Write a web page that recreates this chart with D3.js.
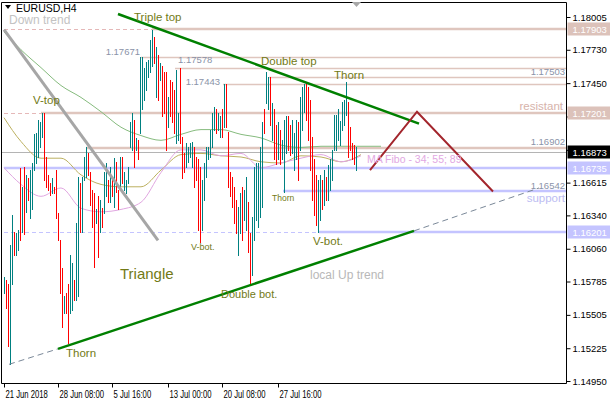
<!DOCTYPE html>
<html><head><meta charset="utf-8">
<script src="https://cdn.jsdelivr.net/npm/d3@7"></script>
<style>
body{margin:0;background:#fff}
svg{display:block}
text{font-family:"Liberation Sans",Arial,sans-serif}
</style>
</head><body>
<svg id="c" width="610" height="400"></svg>
<script>
// ---------------- DATA ----------------
const symbol = "EURUSD,H4";
const yTicks = [1.18005,1.17730,1.17450,1.17170,1.16890,1.16615,1.16340,1.16060,1.15785,1.15505,1.15225,1.14950];
const xTickIdx = [0,27,54,82,109,137];
const xTickLabels = ["21 Jun 2018","28 Jun 08:00","5 Jul 16:00","13 Jul 00:00","20 Jul 08:00","27 Jul 16:00"];

const highs = [
1.1582,1.1580,1.1576,1.1609,1.1634,1.1620,1.1619,1.1622,1.1674,1.1658,
1.1675,1.1668,1.1665,1.1672,1.1678,1.1702,1.1703,1.1714,1.1712,1.1720,
1.1720,1.1683,1.1668,1.1661,1.1665,1.1658,1.1672,1.1636,1.1613,1.1590,
1.1566,1.1569,1.1576,1.1601,1.1594,1.1580,1.1628,1.1666,1.1661,1.1666,
1.1683,1.1691,1.1686,1.1670,1.1655,1.1653,1.1639,1.1650,1.1647,1.1640,
1.1670,1.1678,1.1664,1.1675,1.1666,1.1682,1.1679,1.1655,1.1683,1.1683,
1.1670,1.1664,1.1675,1.1712,1.1720,1.1714,1.1699,1.1697,1.1767,1.1767,
1.1758,1.1763,1.1764,1.1781,1.1790,1.1784,1.1775,1.1769,1.1762,1.1759,
1.1754,1.1754,1.1733,1.1748,1.1746,1.1739,1.1756,1.1720,1.1758,1.1700,
1.1686,1.1695,1.1691,1.1695,1.1696,1.1691,1.1683,1.1681,1.1675,1.1664,
1.1678,1.1691,1.1691,1.1706,1.1720,1.1725,1.1723,1.1720,1.1717,1.1723,
1.1744,1.1744,1.1704,1.1670,1.1666,1.1658,1.1647,1.1641,1.1653,1.1658,
1.1655,1.1666,1.1645,1.1619,1.1633,1.1675,1.1678,1.1678,1.1691,1.1712,
1.1723,1.1754,1.1750,1.1750,1.1728,1.1723,1.1710,1.1712,1.1706,1.1697,
1.1714,1.1717,1.1717,1.1710,1.1714,1.1703,1.1714,1.1712,1.1733,1.1742,
1.1744,1.1744,1.1742,1.1731,1.1700,1.1681,1.1668,1.1664,1.1668,1.1664,
1.1672,1.1666,1.1676,1.1681,1.1689,1.1718,1.1718,1.1723,1.1713,1.1729,
1.1731,1.1746,1.1729,1.1708,1.1695,1.1693,1.1691];

const lows = [
1.1569,1.1556,1.1524,1.1509,1.1576,1.1601,1.1601,1.1605,1.1613,1.1620,
1.1618,1.1637,1.1647,1.1632,1.1639,1.1672,1.1678,1.1683,1.1691,1.1700,
1.1664,1.1658,1.1655,1.1651,1.1653,1.1653,1.1632,1.1613,1.1569,1.1540,
1.1552,1.1552,1.1527,1.1552,1.1555,1.1563,1.1563,1.1566,1.1620,1.1620,
1.1664,1.1666,1.1668,1.1643,1.1624,1.1591,1.1628,1.1599,1.1620,1.1624,
1.1636,1.1650,1.1645,1.1645,1.1650,1.1641,1.1654,1.1639,1.1655,1.1661,
1.1655,1.1653,1.1661,1.1691,1.1689,1.1675,1.1689,1.1681,1.1703,1.1723,
1.1731,1.1739,1.1750,1.1754,1.1759,1.1762,1.1733,1.1731,1.1748,1.1717,
1.1720,1.1689,1.1708,1.1717,1.1712,1.1703,1.1695,1.1697,1.1695,1.1665,
1.1670,1.1675,1.1679,1.1683,1.1675,1.1658,1.1664,1.1622,1.1612,1.1622,
1.1647,1.1666,1.1681,1.1683,1.1691,1.1706,1.1703,1.1706,1.1700,1.1700,
1.1708,1.1708,1.1658,1.1650,1.1641,1.1628,1.1619,1.1601,1.1619,1.1613,
1.1630,1.1622,1.1603,1.1576,1.1584,1.1613,1.1630,1.1624,1.1633,1.1641,
1.1703,1.1728,1.1723,1.1710,1.1697,1.1681,1.1677,1.1681,1.1677,1.1681,
1.1654,1.1686,1.1689,1.1685,1.1686,1.1672,1.1681,1.1664,1.1689,1.1706,
1.1721,1.1714,1.1697,1.1672,1.1647,1.1634,1.1626,1.1620,1.1630,1.1639,
1.1643,1.1647,1.1647,1.1655,1.1664,1.1689,1.1689,1.1697,1.1693,1.1706,
1.1710,1.1718,1.1683,1.1689,1.1681,1.1677,1.1672];

// 1 = bullish bar, 0 = bearish bar
const ups = [
1,0,0,1,1,0,1,1,0,1, 0,1,0,1,1,1,1,1,1,1, 0,0,0,0,1,0,0,0,0,0,
1,0,0,1,1,0,1,1,0,1, 1,1,0,0,0,0,1,0,1,0, 1,1,0,1,0,1,0,0,1,0,
1,1,1,1,1,0,1,0,1,1, 1,1,1,1,1,0,1,0,1,0, 0,0,1,0,0,0,1,1,0,0,
0,1,1,1,1,0,0,0,0,1, 1,1,1,1,1,1,0,1,1,0, 1,0,0,0,0,0,0,1,1,0,
1,1,0,0,1,1,1,1,1,1, 0,1,1,0,1,0,0,1,0,1, 1,1,0,0,1,1,1,0,1,1,
1,0,0,0,0,0,0,1,1,0, 1,0,1,1,1,1,1,1,1,1, 1,1,0,0,0,0,1];

// moving averages (MA Fibo 34/55/89) read at sampled bar positions
const maIdx    = [0,8.5,18.5,28.5,38.5,48.5,58.5,68.5,78.5,88.5,98.5,108.5,118.5,128.5,138.5,148.5,158.5,168.5,178.5,188.5];
const maSlow   = [1.1788,1.1773,1.1758,1.1743,1.1733,1.1721,1.1708,1.1701,1.1697,1.1702,1.1706,1.1706,1.1702,1.1699,1.1693,1.1691,1.1692,1.1692,1.1692,1.1692];
const maMid    = [1.1716,1.1696,1.1682,1.1682,1.1668,1.1660,1.1658,1.1658,1.1672,1.1685,1.1686,1.1684,1.1683,1.1679,1.1678,1.1684,1.1683,1.1679,1.1685];
const maFast   = [1.1674,1.1660,1.1650,1.1657,1.1640,1.1637,1.1639,1.1645,1.1670,1.1689,1.1689,1.1684,1.1686,1.1674,1.1678,1.1682,1.1685,1.1679,1.1684];

// horizontal levels: price, first bar index, kind (r = resistance, s = support)
const levelPrices = [1.17903,1.17671,1.17578,1.17503,1.17443,1.17201,1.16902,1.16735,1.16542,1.16201];
const levelFrom   = [74,68.5,85.5,132.5,109.5,18.5,41,0,139.5,157.5];
const levelKind   = ["r","r","r","r","r","r","r","s","s","s"];
const levelMajor  = [1,0,0,0,0,1,1,1,1,1];
const levelLead   = [1,0,0,0,0,1,0,0,0,1];   // dashed lead-in from chart start
const levelBox    = [1,0,0,0,0,1,0,1,0,1];   // price box on axis
const bidPrice = 1.16873;

// drawn objects: [bar index, price]
const triUpper = [[57,1.1803],[207.5,1.1711]];
const triLower = [[27,1.1522],[205,1.1621]];
const extLeft  = [[2.5,1.1509],[27,1.1522]];
const extRight = [[205,1.1621],[267.5,1.1657]];
const downTrend = [[0,1.1790],[77,1.1613]];
const forecast = [[183,1.1672],[206.5,1.1721],[244.5,1.1654]];

// ---------------- LAYOUT ----------------
const L=1.5, T=2.5, R=566.5, B=383.5;
const svg = d3.select("#c");
const x = d3.scaleLinear().domain([0, highs.length-1]).range([4, 356]);
const y = d3.scaleLinear().domain([1.14950, 1.18005]).range([381, 17]);
const px = v => Math.round(x(v)) + 0.5;

const SALMON="#dfc6be", LAV="#c4c4ff", PINKDASH="#e5b8b8";

svg.append("defs").append("clipPath").attr("id","clip")
  .append("rect").attr("x",L).attr("y",T).attr("width",R-L).attr("height",B-T);
const plot = svg.append("g").attr("clip-path","url(#clip)");

// horizontal levels
levelPrices.forEach((p,i)=>{
  const col = levelKind[i]==="r" ? SALMON : LAV;
  const yy = Math.round(y(p)) + (levelMajor[i]?0:0.5);
  if(levelLead[i]){
    plot.append("line").attr("x1",x(0)).attr("x2",x(levelFrom[i])).attr("y1",Math.round(y(p))+0.5).attr("y2",Math.round(y(p))+0.5)
      .attr("stroke", levelKind[i]==="r"?PINKDASH:LAV).attr("stroke-width",1).attr("stroke-dasharray","4,3");
  }
  plot.append("line").attr("x1",x(levelFrom[i])).attr("x2",R).attr("y1",yy).attr("y2",yy)
    .attr("stroke",col).attr("stroke-width",levelMajor[i]?2.5:1.5);
});
// bid line
plot.append("line").attr("x1",L).attr("x2",R).attr("y1",Math.round(y(bidPrice))+0.5).attr("y2",Math.round(y(bidPrice))+0.5)
  .attr("stroke","#b4b4b4").attr("stroke-width",1);

// moving averages
const maLine = d3.line().x(d=>x(d[0])).y(d=>y(d[1])).curve(d3.curveMonotoneX);
[[maSlow,"#86bb7e"],[maMid,"#bcb060"],[maFast,"#e0a6e0"]].forEach(([arr,c])=>{
  plot.append("path").attr("d",maLine(arr.map((v,i)=>[maIdx[i],v])))
    .attr("fill","none").attr("stroke",c).attr("stroke-width",1);
});

// bars (high-low)
const barG = plot.append("g");
highs.forEach((h,i)=>{
  barG.append("rect")
    .attr("x", Math.round(x(i)))
    .attr("y", Math.round(y(h)))
    .attr("width", 1)
    .attr("height", Math.max(1, Math.round(y(lows[i])) - Math.round(y(h)) + 1))
    .attr("fill", ups[i] === 1 ? "#008080" : "#ff0000");
});

// trend objects
const seg = d3.line().x(d=>x(d[0])).y(d=>y(d[1]));
const drawSeg = (pts,c,w,dash)=>plot.append("path").attr("d",seg(pts)).attr("stroke",c).attr("stroke-width",w)
  .attr("stroke-dasharray",dash||null).attr("fill","none");
drawSeg(downTrend,"#a6a6a6",3);
drawSeg(extLeft,"#7a8898",1,"6,4");
drawSeg(extRight,"#7a8898",1,"6,4");
drawSeg(triUpper,"#008000",2.5);
drawSeg(triLower,"#008000",2.5);
drawSeg(forecast,"#a3262d",2);

// annotation texts
const OLIVE="#727a16", NUM="#8a93a8";
const notes = [
  ["Down trend",9,24,12,"#c3c3c3","start"],
  ["Triple top",134,21,11.5,OLIVE,"start"],
  ["Double top",261,65,11.5,OLIVE,"start"],
  ["Thorn",334,79,11.5,OLIVE,"start"],
  ["V-top",33,104,11.5,OLIVE,"start"],
  ["Thorn",272,201,8.5,OLIVE,"start"],
  ["V-bot.",191,250,9,OLIVE,"start"],
  ["V-bot.",313,245,11.5,OLIVE,"start"],
  ["Triangle",120,279,15,OLIVE,"start"],
  ["local Up trend",310,279,12,"#b8b8b8","start"],
  ["Double bot.",221,298,11,OLIVE,"start"],
  ["Thorn",66,357,11.5,OLIVE,"start"],
  ["MA Fibo - 34; 55; 89",367,163,10.5,"#e2a8e2","start"],
  ["resistant",563,110,11.5,"#d6b2aa","end"],
  ["support",565,202,11.5,"#bcbcf2","end"],
  ["1.17671",140,55,9.5,NUM,"end"],
  ["1.17578",178,63,9.5,NUM,"start"],
  ["1.17443",220,85,9.5,NUM,"end"],
  ["1.17503",565,75,9.5,NUM,"end"],
  ["1.16902",565,145,9.5,NUM,"end"],
  ["1.16542",565,189,9.5,NUM,"end"]
];
const ng = svg.append("g");
notes.forEach(([t,xx,yy,fs,c,a])=>{
  ng.append("text").text(t).attr("x",xx).attr("y",yy).attr("font-size",fs).attr("fill",c).attr("text-anchor",a);
});

// frame
svg.append("path").attr("d",`M${L},${T}H${R}V${B}H${L}Z`).attr("fill","none").attr("stroke","#000").attr("stroke-width",1);

// header
svg.append("path").attr("d","M5,5L11,5L8,9Z").attr("fill","#000");
svg.append("text").text(symbol).attr("x",16).attr("y",12).attr("font-size",10.5).attr("fill","#000");
svg.append("path").attr("d","M352,2L361,2L356.5,7Z").attr("fill","#a8a8a8");

// axis price boxes
const boxes = levelPrices.map((p,i)=>({p, bg: levelKind[i]==="r"?"#dcc2ba":"#c4c4ff"})).filter((d,i)=>levelBox[i]);
boxes.push({p:bidPrice,bg:"#000"});

// right axis
const ya = d3.axisRight(y).tickValues(yTicks).tickSize(4).tickPadding(2).tickFormat(d3.format(".5f"));
const yg = svg.append("g").attr("transform",`translate(${R},0)`).call(ya);
yg.select(".domain").remove();
yg.selectAll("text").attr("font-size",9.5).attr("font-family","Liberation Sans, Arial, sans-serif").attr("fill","#000")
  .style("display", d => boxes.some(b=>Math.abs(y(b.p)-y(d))<8) ? "none" : null);
yg.selectAll("line").attr("stroke","#000");

const bgG = svg.append("g");
boxes.forEach(b=>{
  const yy = Math.round(y(b.p));
  bgG.append("rect").attr("x",R+1).attr("y",yy-6.5).attr("width",610-R).attr("height",13).attr("fill",b.bg);
  bgG.append("text").text(d3.format(".5f")(b.p)).attr("x",R+6).attr("y",yy+3.5).attr("font-size",9.5).attr("fill","#fff");
});

// bottom axis
const xa = d3.axisBottom(x).tickValues(xTickIdx).tickSize(4).tickPadding(3).tickFormat((d,i)=>xTickLabels[i]);
const xg = svg.append("g").attr("transform",`translate(0,${B})`).call(xa);
xg.select(".domain").remove();
xg.selectAll(".tick").attr("transform",d=>`translate(${px(d)},0)`);
xg.selectAll("line").attr("stroke","#000");
xg.selectAll("text").attr("text-anchor","start").attr("x",1).attr("font-size",10)
  .attr("font-family","Liberation Sans, Arial, sans-serif").attr("fill","#000")
  .each(function(){ const w=this.getComputedTextLength(); d3.select(this).attr("textLength",w*0.77).attr("lengthAdjust","spacingAndGlyphs"); });
</script>
</body></html>
